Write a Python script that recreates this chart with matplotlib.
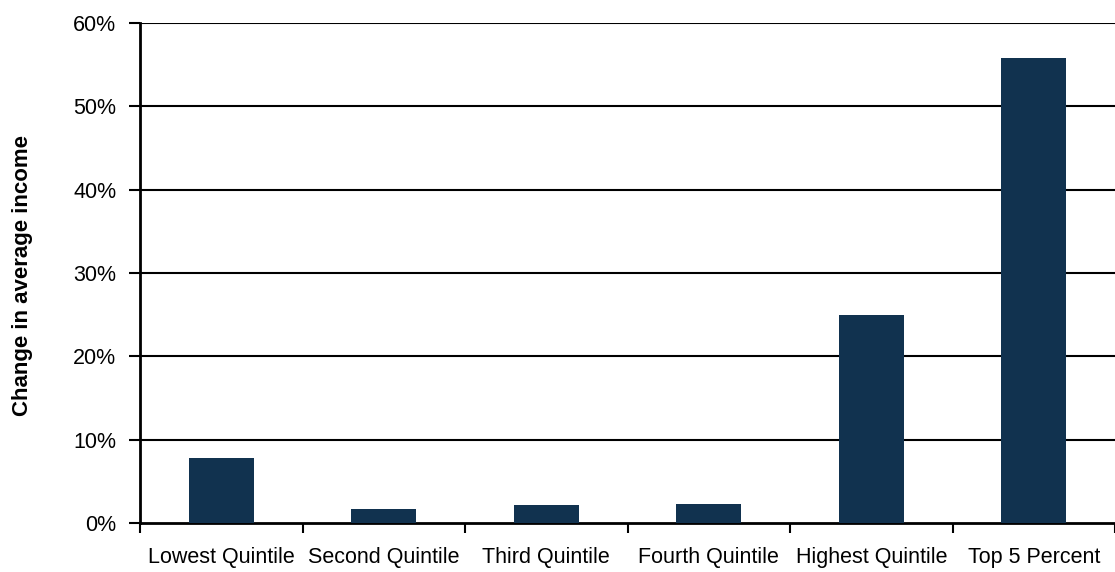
import numpy as np
import matplotlib.pyplot as plt
from matplotlib.ticker import FuncFormatter

plt.rcParams['font.family'] = ['Liberation Sans', 'DejaVu Sans']

categories = ["Lowest Quintile", "Second Quintile", "Third Quintile",
              "Fourth Quintile", "Highest Quintile", "Top 5 Percent"]
change = [7.8, 1.7, 2.2, 2.3, 25.0, 55.8]
yticks = [0, 10, 20, 30, 40, 50, 60]

fig = plt.figure(figsize=(11.15, 5.72), dpi=100)
ax = fig.add_axes([0.1256, 0.0857, 0.8744, 0.874])

x = np.arange(len(categories))
ax.bar(x, change, width=0.4, color='#11324f', zorder=3)

ax.set_xlim(-0.5, len(categories) - 0.5)
ax.set_ylim(0, 60)
ax.set_yticks(yticks)
ax.yaxis.set_major_formatter(FuncFormatter(lambda v, p: f"{v:.0f}%"))
for t in yticks[1:]:
    ax.axhline(t, color='black', lw=1.5, zorder=1)

ax.set_xticks(x)
ax.set_xticklabels(categories)
ax.set_xticks(np.arange(-0.5, len(categories) + 0.5, 1), minor=True)
ax.tick_params(axis='x', which='major', length=0, pad=17, labelsize=15.5)
ax.tick_params(axis='x', which='minor', length=7, width=1.5, direction='out')
ax.tick_params(axis='y', length=8, width=1.5, labelsize=15.5, pad=9)

for s in ['top', 'right']:
    ax.spines[s].set_visible(False)
ax.spines['left'].set_linewidth(2)
ax.spines['bottom'].set_linewidth(2)

fig.text(23 / 1115, 0.519, "Change in average income", rotation=90,
         ha='center', va='center', fontsize=16, fontweight='bold')

fig.savefig("out.png", dpi=100)
